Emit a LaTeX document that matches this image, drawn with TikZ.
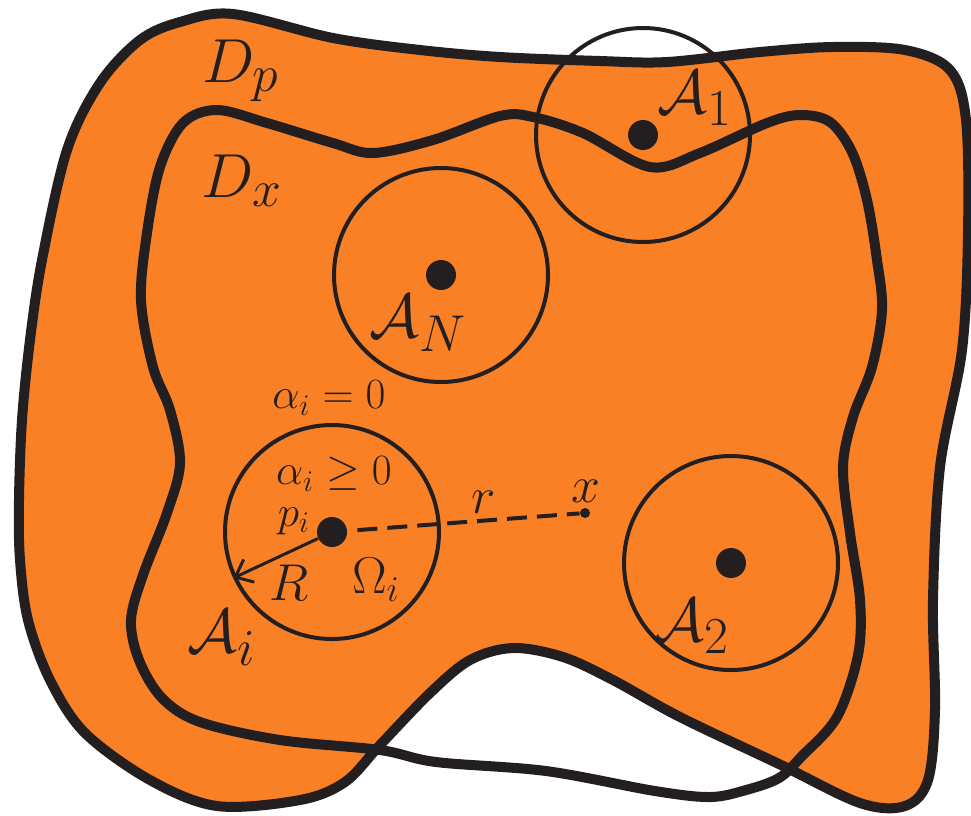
\documentclass[tikz,border=0pt]{standalone}
\usetikzlibrary{arrows.meta}
\definecolor{fillor}{RGB}{250,128,38}
\definecolor{ink}{RGB}{35,31,32}
\begin{document}
\begin{tikzpicture}[x=0.4pt,y=-0.4pt,
  bound/.style={line width=4pt, draw=ink, line join=round},
  zone/.style={circle, draw=ink, line width=1.6pt, minimum size=85.6pt, inner sep=0pt},
  ctr/.style={circle, fill=ink, minimum size=12pt, inner sep=0pt},
  smalldot/.style={circle, fill=ink, minimum size=4pt, inner sep=0pt},
  lbl/.style={text=ink, inner sep=0pt}]
\useasboundingbox (0,0) rectangle (971,815);
% outer domain D_p
\draw[bound, fill=fillor] plot[smooth cycle, tension=0.55] coordinates {
  (233,14) (333,38) (420,50) (500,57) (600,61) (667,62) (760,52) (833,47) (905,50)
  (950,70) (966,120) (968,233) (962,350) (940,467) (933,600) (935,709) (928,780)
  (905,806) (860,803) (779,764) (680,717) (613,680) (563,657) (513,648) (470,660)
  (430,693) (380,745) (345,782) (300,800) (217,806) (150,780) (85,733) (50,680)
  (28,620) (20,560) (19,500) (22,420) (30,340) (42,260) (67,150) (100,83) (140,40) (180,22)};
% inner domain D_x
\draw[bound] plot[smooth cycle, tension=0.55] coordinates {
  (217,110) (267,123) (333,143) (373,153) (433,140) (500,116) (533,117) (583,133)
  (650,167) (700,153) (767,123) (800,115) (830,122) (852,152) (867,200) (877,260)
  (882,310) (872,367) (853,417) (843,467) (850,533) (860,600) (858,655) (837,717)
  (801,757) (779,778) (746,790) (710,797) (655,791) (546,771) (436,762) (380,750)
  (280,740) (200,722) (162,698) (139,660) (131,620) (143,575) (167,513) (180,463) (170,410)
  (153,367) (141,300) (147,233) (160,167) (183,123)};
% zones
\node[zone] (A1c) at (643,135) {};
\node[zone] (ANc) at (441,275) {};
\node[zone] (Aic) at (332,532) {};
\node[zone] (A2c) at (731,563) {};
% centres
\node[ctr] (p1) at (643,135) {};
\node[ctr] (pN) at (441,275) {};
\node[ctr] (pi) at (332,532) {};
\node[ctr] (p2) at (731,563) {};
\node[smalldot] (xp) at (585,513) {};
% connectors
\draw[ink, line width=1.6pt, dash pattern=on 8pt off 4pt, dash phase=-4pt] (pi) -- (xp);
\draw[ink, line width=1.2pt, -{Straight Barb[length=6pt,width=10pt]}] (pi) -- (Aic.205);
% labels
\node[lbl] (Dp) at (241,71) {\Huge $D_p$};
\node[lbl] (Dx) at (242,181) {\Huge $D_x$};
\node[lbl] (A1) at (695,98) {\Huge $\mathcal{A}_1$};
\node[lbl] (AN) at (418,323) {\Huge $\mathcal{A}_N$};
\node[lbl] (Ai) at (222,638) {\Huge $\mathcal{A}_i$};
\node[lbl] (A2) at (692,626) {\Huge $\mathcal{A}_2$};
\node[lbl] (a0) at (329,398) {\LARGE $\alpha_i = 0$};
\node[lbl] (a1) at (334,474) {\LARGE $\alpha_i \geq 0$};
\node[lbl] (pl) at (294,521) {\LARGE $p_i$};
\node[lbl] (Rl) at (289,583) {\huge $R$};
\node[lbl] (Om) at (376,580) {\huge $\Omega_i$};
\node[lbl] (rl) at (484,502) {\huge $r$};
\node[lbl] (xl) at (586,491) {\huge $x$};
\end{tikzpicture}
\end{document}
